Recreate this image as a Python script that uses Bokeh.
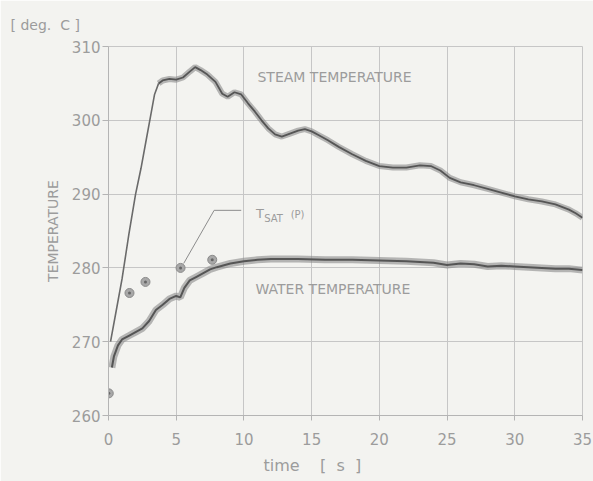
from bokeh.plotting import figure
from bokeh.models import Range1d, Label, FixedTicker, Title
from bokeh.embed import file_html
from bokeh.resources import INLINE

# ---- data ----
steam_t = [0.15, 0.6, 1.0, 1.5, 2.0, 2.4, 2.8, 3.1, 3.4, 3.7, 4.0, 4.5, 5.0, 5.5, 6.0, 6.4,
           6.8, 7.3, 7.9, 8.4, 8.8, 9.3, 9.8, 10.3, 10.8, 11.3, 11.8, 12.3, 12.8, 13.4,
           14.0, 14.5, 15.0, 15.5, 16.2, 17.0, 18.0, 19.0, 20.0, 21.0, 22.0, 23.0, 23.8,
           24.5, 25.2, 26.0, 27.0, 28.0, 29.0, 30.0, 31.0, 32.0, 33.0, 34.0, 34.5, 35.0]
steam_T = [270.0, 274.5, 278.5, 284.5, 290.0, 293.5, 297.5, 300.5, 303.5, 305.0, 305.4,
           305.6, 305.5, 305.8, 306.6, 307.2, 306.8, 306.2, 305.2, 303.6, 303.2, 303.8,
           303.5, 302.3, 301.2, 300.0, 298.9, 298.1, 297.8, 298.2, 298.6, 298.8, 298.5,
           298.0, 297.3, 296.4, 295.4, 294.5, 293.8, 293.6, 293.6, 293.9, 293.8, 293.2,
           292.2, 291.6, 291.2, 290.7, 290.2, 289.7, 289.3, 289.0, 288.6, 287.9, 287.4, 286.8]

water_t = [0.25, 0.4, 0.7, 1.0, 1.5, 2.0, 2.5, 3.0, 3.5, 4.0, 4.5, 5.0, 5.3, 5.6, 6.0, 6.5,
           7.0, 7.5, 8.0, 9.0, 10.0, 11.0, 12.0, 14.0, 16.0, 18.0, 20.0, 22.0, 24.0, 25.0,
           26.0, 27.0, 28.0, 29.0, 30.0, 31.0, 32.0, 33.0, 34.0, 35.0]
water_T = [266.5, 268.0, 269.5, 270.3, 270.8, 271.3, 271.8, 272.8, 274.3, 275.0, 275.8,
           276.2, 276.0, 277.3, 278.3, 278.8, 279.3, 279.8, 280.1, 280.6, 280.9, 281.1,
           281.2, 281.2, 281.1, 281.1, 281.0, 280.9, 280.7, 280.4, 280.6, 280.5, 280.2,
           280.3, 280.2, 280.1, 280.0, 279.9, 279.9, 279.7]

tsat_t = [0.02, 1.55, 2.73, 5.32, 7.66]
tsat_T = [263.0, 276.6, 278.1, 280.0, 281.1]

leader_t = [5.55, 7.8, 9.8]
leader_T = [280.6, 287.8, 287.8]

x_ticks = [0, 5, 10, 15, 20, 25, 30, 35]
y_ticks = [260, 270, 280, 290, 300, 310]

BG = "#f3f3f0"
TXT = "#9c9c9c"
GRID = "#c6c6c6"
FONT = "DejaVu Sans"
NB = "\u00a0"

p = figure(width=593, height=481, output_backend="svg", toolbar_location=None,
           x_range=Range1d(0, 35), y_range=Range1d(260, 310),
           min_border_left=108, min_border_right=11, min_border_top=46, min_border_bottom=66)
p.background_fill_color = BG
p.border_fill_color = BG
p.outline_line_color = GRID

# unit label top-left, as a title
p.title.text = "[" + NB + "deg." + NB + NB + "C" + NB + "]"
p.title.align = "left"
p.title.offset = -98
p.title.standoff = 28
p.title.text_font = FONT
p.title.text_font_size = "14px"
p.title.text_font_style = "normal"
p.title.text_color = TXT

# x axis label below, as a title
xt = Title(text="time" + NB * 4 + "[" + NB * 2 + "s" + NB * 2 + "]", align="left", offset=155,
           text_font=FONT, text_font_size="16px", text_font_style="normal",
           text_color=TXT, standoff=12)
p.add_layout(xt, "below")

for ax in (p.xaxis[0], p.yaxis[0]):
    ax.axis_line_color = "#b4b4b4"
    ax.major_tick_line_color = "#b4b4b4"
    ax.major_tick_in = 0
    ax.minor_tick_line_color = None
    ax.major_label_text_color = TXT
    ax.major_label_text_font = FONT
    ax.major_label_text_font_size = "15px"

p.xaxis.ticker = FixedTicker(ticks=x_ticks)
p.yaxis.ticker = FixedTicker(ticks=y_ticks)
p.xaxis.major_tick_out = 5
p.xaxis.major_label_standoff = 12
p.yaxis.major_tick_out = 6
p.yaxis.major_label_standoff = 2
p.yaxis.axis_label = "TEMPERATURE"
p.yaxis.axis_label_text_font = FONT
p.yaxis.axis_label_text_font_style = "normal"
p.yaxis.axis_label_text_font_size = "14px"
p.yaxis.axis_label_text_color = TXT
p.yaxis.axis_label_standoff = 8

p.xgrid.ticker = FixedTicker(ticks=x_ticks)
p.ygrid.ticker = FixedTicker(ticks=y_ticks)
p.grid.grid_line_color = GRID
p.grid.grid_line_width = 1

# steam: thin rising part + noisy band
n_rise = 9
p.line(steam_t[:n_rise + 1], steam_T[:n_rise + 1], line_color="#6a6a6a", line_width=1.6)
p.line(steam_t[n_rise:], steam_T[n_rise:], line_color="#8a8a8a", line_width=6, line_alpha=0.6)
p.line(steam_t[n_rise:], steam_T[n_rise:], line_color="#555555", line_width=1.8)

# water: noisy band
p.line(water_t, water_T, line_color="#8a8a8a", line_width=7, line_alpha=0.6)
p.line(water_t, water_T, line_color="#555555", line_width=2)

# saturation temperature points and leader
p.line(leader_t, leader_T, line_color="#8c8c8c", line_width=1)
p.scatter(tsat_t, tsat_T, size=9, marker="circle", fill_color="#a8a8a8", line_color="#8a8a8a")
p.scatter(tsat_t, tsat_T, size=3, marker="circle", fill_color="#666666", line_color=None)

def lab(x, y, text, size, baseline="middle", align="left"):
    p.add_layout(Label(x=x, y=y, text=text, text_font=FONT, text_font_size=size,
                       text_color=TXT, text_baseline=baseline, text_align=align))

lab(11.0, 305.9, "STEAM TEMPERATURE", "14px")
lab(10.85, 277.1, "WATER TEMPERATURE", "14px")
lab(10.9, 287.4, "T", "13px", baseline="alphabetic")
lab(11.5, 286.7, "SAT", "10px", baseline="alphabetic")
lab(13.45, 287.2, "(P)", "10px", baseline="alphabetic")

open("out.html", "w").write(file_html(p, INLINE))
